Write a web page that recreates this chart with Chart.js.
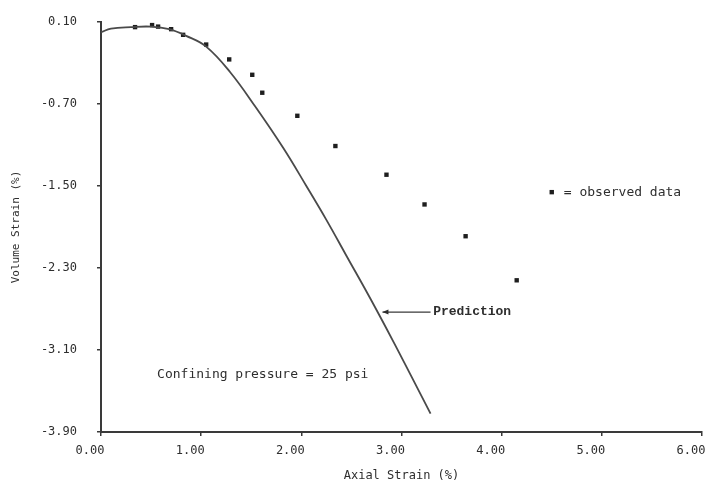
<!DOCTYPE html>
<html><head><meta charset="utf-8">
<script src="https://cdn.jsdelivr.net/npm/chart.js@4.4.0/dist/chart.umd.min.js"></script>
<style>html,body{margin:0;padding:0;background:#fff;overflow:hidden}
#c{position:absolute;left:0;top:0}
</style></head><body>
<canvas id="c" width="709" height="485"></canvas>
<script>
// ---- data ----
const observedX = [0.34, 0.51, 0.57, 0.70, 0.82, 1.05, 1.28, 1.51, 1.61, 1.96, 2.34, 2.85, 3.23, 3.64, 4.15];
const observedY = [0.05, 0.07, 0.055, 0.03, -0.025, -0.12, -0.265, -0.415, -0.59, -0.815, -1.11, -1.39, -1.68, -1.99, -2.42];
const predictionX = [0, 0.10, 0.30, 0.50, 0.68, 0.85, 1.05, 1.29, 1.54, 1.82, 2.05, 2.25, 2.45, 2.69, 2.92, 3.10, 3.29];
const predictionY = [0.0, 0.035, 0.05, 0.055, 0.03, -0.035, -0.14, -0.39, -0.725, -1.13, -1.50, -1.83, -2.18, -2.60, -3.02, -3.36, -3.72];
const xTickValues = [0, 1, 2, 3, 4, 5, 6];
const yTickValues = [0.10, -0.70, -1.50, -2.30, -3.10, -3.90];
const xTitle = 'Axial Strain (%)';
const yTitle = 'Volume Strain (%)';
const noteText = 'Confining pressure = 25 psi';
const noteAt = {x: 0.56, y: -3.345};
const predLabel = 'Prediction';
const predLabelAt = {x: 3.316, y: -2.73};
const predArrow = {x1: 2.81, x2: 3.29, y: -2.73};
const legendText = '= observed data';
const legendMarkerAt = {x: 4.50, y: -1.56};
const legendTextAt = {x: 4.62, y: -1.56};

const mono = '"DejaVu Sans Mono", "Liberation Mono", monospace';
const textColor = '#2e2e2e';
const axisColor = '#3a3a3a';

const toPts = (xs, ys) => xs.map((v, i) => ({x: v, y: ys[i]}));

const annotations = {
  id: 'annotations',
  afterDatasetsDraw(chart) {
    const {ctx, scales: {x, y}} = chart;
    ctx.save();
    ctx.fillStyle = textColor;
    ctx.textBaseline = 'middle';
    ctx.textAlign = 'left';
    ctx.font = '13px ' + mono;
    ctx.fillText(noteText, x.getPixelForValue(noteAt.x), y.getPixelForValue(noteAt.y));
    ctx.fillText(legendText, x.getPixelForValue(legendTextAt.x), y.getPixelForValue(legendTextAt.y));
    ctx.font = 'bold 13px "Liberation Mono", monospace';
    ctx.fillText(predLabel, x.getPixelForValue(predLabelAt.x), y.getPixelForValue(predLabelAt.y));
    // arrow
    const ax1 = x.getPixelForValue(predArrow.x1), ax2 = x.getPixelForValue(predArrow.x2), ay = y.getPixelForValue(predArrow.y);
    ctx.strokeStyle = axisColor; ctx.lineWidth = 1.3;
    ctx.beginPath(); ctx.moveTo(ax1, ay); ctx.lineTo(ax2, ay); ctx.stroke();
    ctx.beginPath(); ctx.moveTo(ax1, ay); ctx.lineTo(ax1 + 6, ay - 2.5); ctx.lineTo(ax1 + 6, ay + 2.5); ctx.closePath(); ctx.fill();
    // legend marker
    const mx = x.getPixelForValue(legendMarkerAt.x), my = y.getPixelForValue(legendMarkerAt.y);
    ctx.fillStyle = '#1e1e1e';
    ctx.fillRect(mx - 2.2, my - 2.2, 4.4, 4.4);
    ctx.restore();
  }
};

new Chart(document.getElementById('c'), {
  type: 'scatter',
  data: {
    datasets: [
      {
        label: 'Prediction',
        data: toPts(predictionX, predictionY),
        showLine: true,
        borderColor: '#4a4a4a',
        borderWidth: 1.8,
        pointRadius: 0,
        tension: 0.4,
        fill: false
      },
      {
        label: 'observed data',
        data: toPts(observedX, observedY),
        showLine: false,
        pointStyle: 'rect',
        pointRadius: 3.1,
        backgroundColor: '#1e1e1e',
        borderColor: '#1e1e1e',
        borderWidth: 0
      }
    ]
  },
  options: {
    responsive: false,
    animation: false,
    devicePixelRatio: 1,
    layout: {padding: {left: 0, top: 22, right: 7, bottom: 0}},
    plugins: {legend: {display: false}, tooltip: {enabled: false}},
    scales: {
      x: {
        type: 'linear', min: 0, max: 6,
        afterBuildTicks: s => { s.ticks = xTickValues.map(v => ({value: v})); },
        afterFit: s => { s.height = 53; s.paddingLeft = 0; s.paddingRight = 0; },
        grid: {display: true, drawOnChartArea: false, drawTicks: true, tickLength: 4, color: axisColor, lineWidth: 1.5},
        border: {display: true, color: axisColor, width: 2},
        ticks: {color: textColor, font: {family: mono, size: 12}, padding: 8, labelOffset: -11, maxRotation: 0, autoSkip: false,
                callback: v => Number(v).toFixed(2)},
        title: {display: true, text: xTitle, color: textColor, font: {family: mono, size: 12}, padding: {top: 0, bottom: 2}}
      },
      y: {
        type: 'linear', min: -3.9, max: 0.1,
        afterBuildTicks: s => { s.ticks = yTickValues.map(v => ({value: v})); },
        afterFit: s => { s.width = 101; s.paddingTop = 0; s.paddingBottom = 0; },
        grid: {display: true, drawOnChartArea: false, drawTicks: true, tickLength: 4, color: axisColor, lineWidth: 1.5},
        border: {display: true, color: axisColor, width: 2},
        ticks: {color: textColor, font: {family: mono, size: 12}, padding: 20, autoSkip: false,
                callback: v => Number(v).toFixed(2)},
        title: {display: true, text: yTitle, color: textColor, font: {family: mono, size: 11}, padding: {top: 10, bottom: 0}}
      }
    }
  },
  plugins: [annotations]
});
</script>
</body></html>
